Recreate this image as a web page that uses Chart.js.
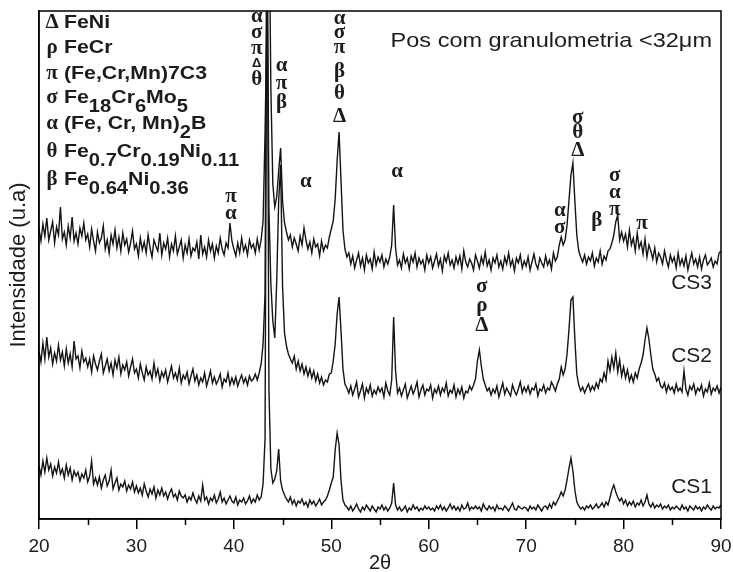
<!DOCTYPE html>
<html>
<head>
<meta charset="utf-8">
<script src="https://cdn.jsdelivr.net/npm/chart.js@4.4.1/dist/chart.umd.min.js"></script>
<style>
  html, body { margin: 0; padding: 0; background: #fff; }
  #wrap { width: 733px; height: 572px; }
</style>
</head>
<body>
<div id="wrap"><canvas id="xrdChart"></canvas></div>
<script>
// Scan range: 20-90 deg 2theta, 0.2 deg step
const scanStart = 20;
const scanStep = 0.2;

// Intensities (u.a.), stacked traces; one row per 5 degrees
const cs3Counts = [
  290,278,295,283,301, 279,288,297,276,292, 284,312,280,287,274, 293,281,302,278,286, 275,291,283,296,279,
  285,272,290,278,268, 287,276,281,293,270, 279,266,284,275,289, 271,282,268,286,274, 280,267,276,288,270,
  275,263,281,269,277, 266,284,271,262,279, 273,268,286,264,276, 270,281,262,275,268, 283,265,272,279,261,
  274,266,280,263,271, 268,277,260,284,265, 272,262,279,268,275, 261,273,266,281,270, 264,276,271,296,278,
  270,263,276,266,281, 268,274,264,279,271, 275,266,280,269,279, 298,385,500,620,430, 335,312,322,348,371,
  318,296,287,279,284, 272,281,275,268,283, 274,291,279,270,277, 266,280,272,275,263, 278,268,274,271,282,
  290,298,320,358,387, 338,289,270,262,266, 255,263,251,259,266, 253,261,249,264,256, 260,250,267,254,262,
  257,264,252,260,255, 262,274,314,271,254, 259,251,265,256,261, 250,263,257,266,252, 261,255,259,249,264,
  256,262,251,258,265, 253,260,248,263,257, 266,254,259,251,262, 255,263,250,268,257, 252,260,256,249,264,
  258,251,262,255,267, 253,259,249,261,256, 264,252,258,250,262, 255,266,253,259,248, 261,256,264,251,258,
  253,262,249,257,265, 255,250,261,256,252, 263,254,259,250,266, 258,262,274,282,274, 279,294,319,344,356,
  318,284,268,262,257, 264,255,262,258,266, 253,261,257,268,255, 263,259,268,270,276, 284,297,304,279,287,
  278,285,272,289,274, 281,268,286,271,277, 265,280,262,274,268, 260,271,257,266,262, 255,268,259,252,264,
  257,262,251,266,254, 260,253,263,249,258, 266,255,260,252,262, 250,259,264,254,257, 261,252,258,255,266,
  268
];

const cs2Counts = [
  168,157,176,160,182, 162,171,155,166,158, 174,159,167,153,170, 156,165,152,178,160, 163,151,168,157,161,
  152,160,147,163,155, 149,158,165,146,153, 160,148,156,144,159, 151,162,145,154,149, 157,143,152,160,146,
  150,141,155,146,139, 152,144,148,140,156, 143,150,138,147,142, 149,137,145,153,141, 146,139,151,136,144,
  140,147,135,143,150, 138,144,134,141,137, 146,133,140,148,136, 142,135,139,145,132, 140,137,146,134,141,
  135,142,133,139,144, 136,141,134,143,138, 140,145,139,146,155, 175,225,620,310,235, 198,181,238,318,354,
  232,186,173,165,160, 156,163,150,158,148, 155,145,152,143,150, 141,148,138,145,136, 142,134,139,137,145,
  146,158,175,205,222, 188,150,135,131,126, 133,124,130,137,122, 128,135,121,131,126, 134,123,129,125,132,
  127,131,122,136,128, 124,139,202,148,126, 131,123,129,135,121, 127,133,125,130,137, 122,129,134,124,130,
  128,134,121,130,126, 133,124,131,127,136, 123,129,126,134,122, 130,125,132,121,128, 126,133,129,134,140,
  158,169,153,140,134, 128,131,124,130,126, 133,122,129,136,125, 131,127,123,134,128, 124,130,137,126,132,
  127,133,125,131,129, 135,123,130,128,134, 126,131,129,137,133, 128,135,140,152,144, 150,165,190,219,222,
  180,145,134,128,132, 126,131,135,128,133, 129,136,131,140,137, 146,139,158,148,162, 151,166,147,159,143,
  152,141,149,138,144, 137,146,141,150,156, 164,179,191,180,164, 150,145,138,141,133, 131,136,127,134,129,
  132,126,135,128,131, 127,148,130,124,133, 129,135,125,131,128, 134,123,130,127,136, 125,131,128,133,126,
  132
];

const cs1Counts = [
  53,44,58,47,61, 49,55,43,52,46, 57,45,50,41,54, 44,51,39,48,43, 47,38,45,41,49,
  37,43,58,35,41, 34,42,31,39,44, 33,38,49,30,36, 41,29,35,32,38, 28,34,30,37,27,
  33,26,31,24,35, 28,22,30,25,32, 21,29,24,31,23, 27,20,26,30,22, 25,19,28,23,21,
  24,17,22,19,26, 20,16,23,18,34, 19,22,15,21,18, 24,16,20,27,17, 21,15,19,23,18,
  16,22,14,19,17, 21,15,18,23,16, 20,17,24,19,22, 35,80,620,130,50, 36,40,48,70,38,
  29,24,20,17,22, 15,19,13,18,16, 20,14,17,12,19, 15,18,13,16,20, 14,17,19,23,29,
  36,42,69,86,74, 38,19,14,12,9, 13,8,11,15,10, 7,12,9,14,11, 8,13,10,7,12,
  10,14,9,12,8, 11,16,36,14,9, 12,8,10,13,7, 11,9,14,10,12, 8,11,9,13,10,
  12,9,11,8,13, 10,14,9,12,8, 11,15,10,13,9, 12,8,14,10,11, 16,9,12,10,13,
  10,12,8,15,11, 9,13,10,12,8, 14,10,11,9,13, 11,8,12,16,10, 9,13,11,10,12,
  11,8,13,10,12, 9,14,11,8,12, 13,10,15,11,17, 14,18,22,27,23, 29,39,51,61,48,
  29,17,13,10,12, 9,13,11,14,10, 12,15,11,13,16, 12,17,14,21,29, 34,27,22,18,21,
  15,19,13,17,14, 18,12,16,14,19, 13,17,24,15,12, 16,11,14,12,15, 10,13,11,14,9,
  12,10,13,11,9, 14,10,12,8,13, 11,9,13,10,12, 8,12,10,14,11, 9,13,10,12,11,
  14
];

const sampleNames = ['CS3', 'CS2', 'CS1'];
const sampleLabelLevels = [236, 163, 32];   // intensity where each name sits
const xTickValues = [20, 30, 40, 50, 60, 70, 80, 90];
const xMinorTicks = [25, 35, 45, 55, 65, 75, 85];

// Phase key: symbol, then formula pieces (second item = subscript)
const phaseKey = [
  ['Δ', [['FeNi']]],
  ['ρ', [['FeCr']]],
  ['π', [['(Fe,Cr,Mn)7C3']]],
  ['σ', [['Fe'], ['18', 1], ['Cr'], ['6', 1], ['Mo'], ['5', 1]]],
  ['α', [['(Fe, Cr, Mn)'], ['2', 1], ['B']]],
  ['θ', [['Fe'], ['0.7', 1], ['Cr'], ['0.19', 1], ['Ni'], ['0.11', 1]]],
  ['β', [['Fe'], ['0.64', 1], ['Ni'], ['0.36', 1]]]
];

// Peak identification: 2theta of the column, then [symbol, intensity level]
const peakLabels = [
  { theta: 42.35, marks: [['α', 502], ['σ', 486], ['π', 470], ['Δ', 456, 'small'], ['θ', 439]] },
  { theta: 44.9, marks: [['α', 453], ['π', 435], ['β', 416]] },
  { theta: 50.85, marks: [['α', 500], ['σ', 486], ['π', 471], ['β', 447], ['θ', 425], ['Δ', 402]] },
  { theta: 39.7, marks: [['π', 322], ['α', 305]] },
  { theta: 47.4, marks: [['α', 337]] },
  { theta: 56.75, marks: [['α', 347]] },
  { theta: 65.45, marks: [['σ', 232], ['ρ', 213], ['Δ', 193]] },
  { theta: 73.45, marks: [['α', 308], ['σ', 291]] },
  { theta: 75.3, marks: [['σ', 401], ['θ', 386], ['Δ', 368]] },
  { theta: 77.25, marks: [['β', 298]] },
  { theta: 79.1, marks: [['σ', 343], ['α', 326], ['π', 309]] },
  { theta: 81.9, marks: [['π', 295]] }
];

const textColor = '#1c1c1c';
const sansFamily = '"Liberation Sans", Arial, sans-serif';
const greekFont = 'bold 21px "Liberation Serif", "DejaVu Serif", serif';

function toPoints(counts) {
  return counts.map((v, i) => ({ x: +(scanStart + i * scanStep).toFixed(1), y: v }));
}

// text drawn slightly widened, as in the printed figure
function wideText(ctx, text, x, y, sx) {
  ctx.save();
  ctx.translate(x, y);
  ctx.scale(sx, 1);
  ctx.fillText(text, 0, 0);
  ctx.restore();
  return ctx.measureText(text).width * sx;
}

const annotations = {
  id: 'annotations',
  afterDatasetsDraw(chart) {
    const { ctx, chartArea: a, scales: { x, y } } = chart;
    ctx.save();

    // frame around the plot
    ctx.strokeStyle = '#000';
    ctx.lineWidth = 1.5;
    ctx.strokeRect(a.left, a.top, a.right - a.left, a.bottom - a.top);

    // minor ticks on the 2theta axis
    ctx.beginPath();
    xMinorTicks.forEach(t => {
      const px = Math.round(x.getPixelForValue(t)) + 0.5;
      ctx.moveTo(px, a.bottom);
      ctx.lineTo(px, a.bottom + 6);
    });
    ctx.stroke();

    ctx.fillStyle = textColor;
    ctx.textBaseline = 'middle';

    // peak symbols
    ctx.textAlign = 'center';
    peakLabels.forEach(p => {
      const px = x.getPixelForValue(p.theta);
      p.marks.forEach(([sym, level, size]) => {
        ctx.font = size === 'small' ? 'bold 13px "Liberation Sans", sans-serif' : greekFont;
        ctx.fillText(sym, px, y.getPixelForValue(level));
      });
    });

    // sample names
    ctx.textAlign = 'right';
    ctx.font = '21px ' + sansFamily;
    sampleNames.forEach((name, i) => {
      ctx.fillText(name, a.right - 9, y.getPixelForValue(sampleLabelLevels[i]));
    });

    // heading
    ctx.font = '21px ' + sansFamily;
    wideText(ctx, 'Pos com granulometria <32μm', a.right - 9, a.top + 30, 1.12);

    // phase key
    const rowY = [12, 37, 63, 87, 113, 141, 169];
    phaseKey.forEach(([sym, parts], i) => {
      const cy = a.top + rowY[i];
      ctx.textAlign = 'center';
      ctx.font = greekFont;
      ctx.fillText(sym, a.left + 13, cy);
      ctx.textAlign = 'left';
      let cx = a.left + 25;
      parts.forEach(([txt, sub]) => {
        ctx.font = sub ? 'bold 18px ' + sansFamily : 'bold 19px ' + sansFamily;
        cx += wideText(ctx, txt, cx, sub ? cy + 9 : cy, 1.12);
      });
    });

    ctx.restore();
  }
};

document.addEventListener('DOMContentLoaded', function () {
  const ctx = document.getElementById('xrdChart').getContext('2d');
  const traces = [cs3Counts, cs2Counts, cs1Counts];

  new Chart(ctx, {
    type: 'line',
    data: {
      datasets: traces.map((counts, i) => ({
        label: sampleNames[i],
        data: toPoints(counts),
        borderColor: '#141414',
        borderWidth: 1.4,
        pointRadius: 0,
        tension: 0,
        fill: false
      }))
    },
    options: {
      animation: false,
      responsive: true,
      maintainAspectRatio: false,
      layout: { padding: { top: 11, right: 12, left: 0, bottom: 0 } },
      plugins: {
        legend: { display: false },
        tooltip: { enabled: false }
      },
      scales: {
        x: {
          type: 'linear',
          min: 20,
          max: 90,
          afterBuildTicks: axis => { axis.ticks = xTickValues.map(v => ({ value: v })); },
          afterFit: axis => {
            axis.height = 53;
            axis.paddingLeft = 0;
            axis.paddingRight = 0;
          },
          ticks: {
            color: textColor,
            padding: 8,
            maxRotation: 0,
            font: { family: sansFamily, size: 19, lineHeight: 1 }
          },
          grid: { drawOnChartArea: false, tickLength: 10, color: '#000', lineWidth: 1.5 },
          border: { color: '#000', width: 1.5 },
          title: {
            display: true,
            text: '2θ',
            color: textColor,
            padding: 0,
            font: { family: sansFamily, size: 20, lineHeight: 0.85 }
          }
        },
        y: {
          min: 0,
          max: 508,
          afterFit: axis => { axis.width = 39; },
          ticks: { display: false },
          grid: { display: false, drawTicks: false },
          border: { color: '#000', width: 1.5 },
          title: {
            display: true,
            text: 'Intensidade (u.a)',
            color: textColor,
            padding: { top: 8, bottom: 10 },
            font: { family: sansFamily, size: 22, lineHeight: 1 }
          }
        }
      }
    },
    plugins: [annotations]
  });
});
</script>
</body>
</html>
